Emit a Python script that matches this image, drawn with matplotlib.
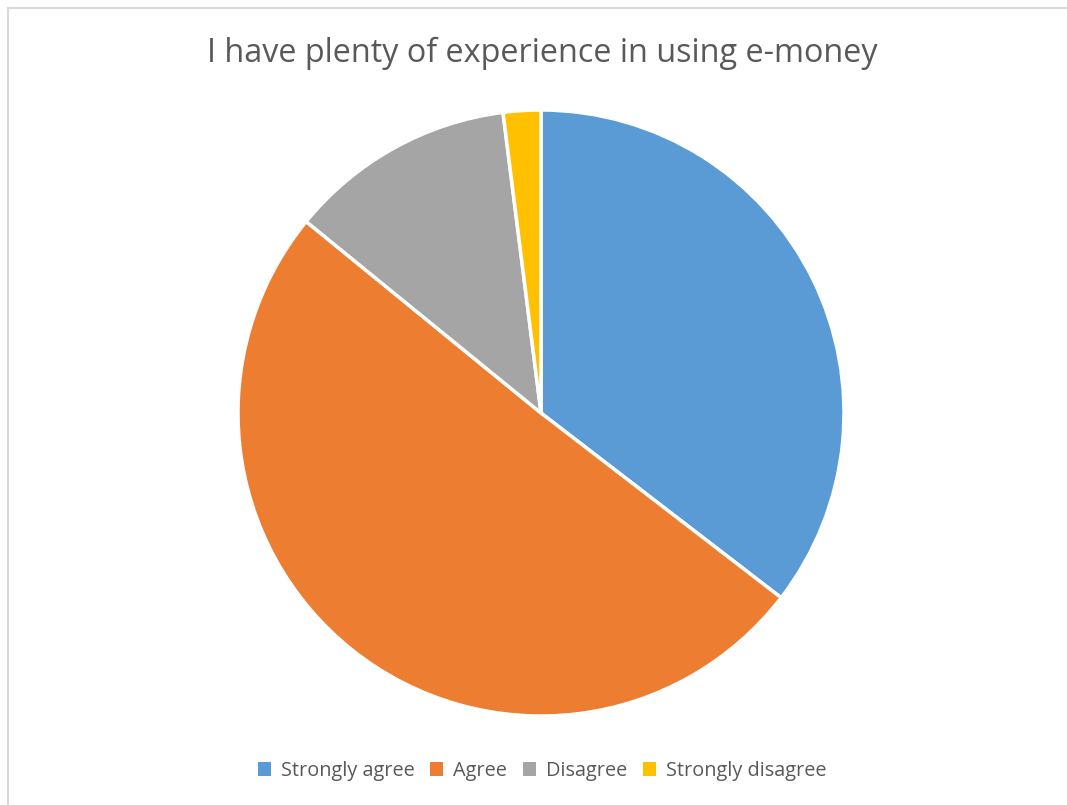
import matplotlib
matplotlib.use("Agg")
import matplotlib.pyplot as plt
from matplotlib.lines import Line2D
from matplotlib.patches import Patch

# ---------------------------------------------------------------------------
# Data
# ---------------------------------------------------------------------------
CATEGORIES = ["Strongly agree", "Agree", "Disagree", "Strongly disagree"]
SHARES = [35.4, 50.4, 12.1, 2.0]
COLORS = ["#5B9BD5", "#ED7D31", "#A5A5A5", "#FFC000"]
TITLE = "I have plenty of experience in using e-money"

plt.rcParams["font.family"] = ["Open Sans", "DejaVu Sans"]

fig = plt.figure(figsize=(10.67, 8.05), dpi=100)

# light chart-area frame: only left and top edges fall inside the image
fx, fy = 7.5 / 1067, 1 - 8.5 / 805
fig.add_artist(Line2D([fx, fx], [0, fy], transform=fig.transFigure,
                      color="#D9D9D9", linewidth=1.5))
fig.add_artist(Line2D([fx, 1], [fy, fy], transform=fig.transFigure,
                      color="#D9D9D9", linewidth=1.5))

ax = fig.add_axes([(541 - 303) / 1067, (805 - 413 - 303) / 805,
                   606 / 1067, 606 / 805])
ax.pie(SHARES, colors=COLORS, startangle=90, counterclock=False,
       wedgeprops=dict(edgecolor="white", linewidth=2.5))
ax.set_aspect("equal")
ax.set_xlim(-1, 1)
ax.set_ylim(-1, 1)

fig.text(542 / 1067, 1 - 53 / 805, TITLE, ha="center", va="center",
         fontsize=23.3, color="#595959")

handles = [Patch(facecolor=c, edgecolor="none") for c in COLORS]
fig.legend(handles, CATEGORIES, loc="center", bbox_to_anchor=(542 / 1067, 1 - 771 / 805),
           ncol=4, frameon=False, fontsize=14.3, labelcolor="#595959",
           handlelength=0.65, handleheight=0.65, handletextpad=0.5, columnspacing=0.8)

fig.savefig("out.png", dpi=100)
